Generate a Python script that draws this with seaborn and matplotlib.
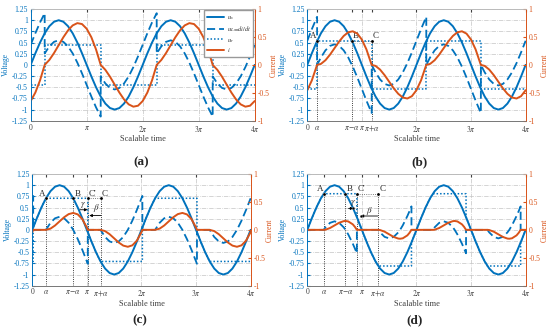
import matplotlib
matplotlib.use("Agg")
import matplotlib.pyplot as plt
import seaborn as sns

sns.set_style("white")
plt.rcParams['font.family'] = ['Liberation Serif', 'DejaVu Serif']
plt.rcParams['mathtext.fontset'] = 'stix'

BLUE = '#0072BD'
ORANGE = '#D95319'
GRID = '#c4c4c4'
TXT = '#404040'

# time axis in degrees (180 = pi)
t_us = [0, 15, 30, 45, 60, 75, 90, 105, 120, 135, 150, 165, 180, 195, 210, 225, 240, 255, 270, 285,
        300, 315, 330, 345, 360, 375, 390, 405, 420, 435, 450, 465, 480, 495, 510, 525, 540, 555,
        570, 585, 600, 615, 630, 645, 660, 675, 690, 705, 720]
u_s = [0, 0.259, 0.5, 0.707, 0.866, 0.966, 1, 0.966, 0.866, 0.707, 0.5, 0.259, 0, -0.259, -0.5,
       -0.707, -0.866, -0.966, -1, -0.966, -0.866, -0.707, -0.5, -0.259, 0, 0.259, 0.5, 0.707, 0.866,
       0.966, 1, 0.966, 0.866, 0.707, 0.5, 0.259, 0, -0.259, -0.5, -0.707, -0.866, -0.966, -1,
       -0.966, -0.866, -0.707, -0.5, -0.259, 0]

# (a) continuous conduction
t_a = [0, 15, 30, 45, 45, 60, 75, 90, 105, 120, 135, 150, 165, 180, 195, 210, 225, 225, 240, 255,
       270, 285, 300, 315, 330, 345, 360, 375, 390, 405, 405, 420, 435, 450, 465, 480, 495, 510,
       525, 540, 555, 570, 585, 585, 600, 615, 630, 645, 660, 675, 690, 705, 720]
uL_a = [0.45, 0.709, 0.95, 1.157,
        0.257, 0.416, 0.516, 0.55, 0.516, 0.416, 0.257, 0.05, -0.191, -0.45, -0.709, -0.95, -1.157,
        -0.257, -0.416, -0.516, -0.55, -0.516, -0.416, -0.257, -0.05, 0.191, 0.45, 0.709, 0.95, 1.157,
        0.257, 0.416, 0.516, 0.55, 0.516, 0.416, 0.257, 0.05, -0.191, -0.45, -0.709, -0.95, -1.157,
        -0.257, -0.416, -0.516, -0.55, -0.516, -0.416, -0.257, -0.05, 0.191, 0.45]
i_a = [-0.647, -0.495, -0.277, 0,
       0, 0.089, 0.212, 0.354, 0.495, 0.618, 0.707, 0.748, 0.731, 0.647, 0.495, 0.277, 0,
       0, -0.089, -0.212, -0.354, -0.495, -0.618, -0.707, -0.748, -0.731, -0.647, -0.495, -0.277, 0,
       0, 0.089, 0.212, 0.354, 0.495, 0.618, 0.707, 0.748, 0.731, 0.647, 0.495, 0.277, 0,
       0, -0.089, -0.212, -0.354, -0.495, -0.618, -0.707, -0.748, -0.731, -0.647]
tr_a = [0, 45, 45, 225, 225, 405, 405, 585, 585, 720]
ur_a = [-0.45, -0.45, 0.45, 0.45, -0.45, -0.45, 0.45, 0.45, -0.45, -0.45]

# (b) boundary conduction
t_b = [0, 15, 30, 32.4, 32.4, 45, 60, 75, 90, 105, 120, 135, 150, 165, 180, 195, 210, 212.4,
       212.4, 225, 240, 255, 270, 285, 300, 315, 330, 345, 360, 375, 390, 392.4,
       392.4, 405, 420, 435, 450, 465, 480, 495, 510, 525, 540, 555, 570, 572.4,
       572.4, 585, 600, 615, 630, 645, 660, 675, 690, 705, 720]
uL_b = [0.54, 0.799, 1.04, 1.076,
        0, 0.167, 0.326, 0.426, 0.46, 0.426, 0.326, 0.167, -0.04, -0.281, -0.54, -0.799, -1.04, -1.076,
        0, -0.167, -0.326, -0.426, -0.46, -0.426, -0.326, -0.167, 0.04, 0.281, 0.54, 0.799, 1.04, 1.076,
        0, 0.167, 0.326, 0.426, 0.46, 0.426, 0.326, 0.167, -0.04, -0.281, -0.54, -0.799, -1.04, -1.076,
        0, -0.167, -0.326, -0.426, -0.46, -0.426, -0.326, -0.167, 0.04, 0.281, 0.54]
i_b = [-0.453, -0.278, -0.036, 0,
       0, 0.018, 0.084, 0.184, 0.301, 0.419, 0.518, 0.584, 0.602, 0.560, 0.453, 0.278, 0.036, 0,
       0, -0.018, -0.084, -0.184, -0.301, -0.419, -0.518, -0.584, -0.602, -0.560, -0.453, -0.278, -0.036, 0,
       0, 0.018, 0.084, 0.184, 0.301, 0.419, 0.518, 0.584, 0.602, 0.560, 0.453, 0.278, 0.036, 0,
       0, -0.018, -0.084, -0.184, -0.301, -0.419, -0.518, -0.584, -0.602, -0.560, -0.453]
tr_b = [0, 32.4, 32.4, 212.4, 212.4, 392.4, 392.4, 572.4, 572.4, 720]
ur_b = [-0.54, -0.54, 0.54, 0.54, -0.54, -0.54, 0.54, 0.54, -0.54, -0.54]

# (c) discontinuous conduction
t_c = [0, 3, 3, 45, 60, 75, 90, 105, 120, 135, 150, 165, 180, 183, 183,
       225, 240, 255, 270, 285, 300, 315, 330, 345, 360, 363, 363,
       405, 420, 435, 450, 465, 480, 495, 510, 525, 540, 543, 543,
       585, 600, 615, 630, 645, 660, 675, 690, 705, 720]
uL_c = [0.707, 0.759, 0,
        0, 0.159, 0.259, 0.293, 0.259, 0.159, 0, -0.207, -0.448, -0.707, -0.759, 0,
        0, -0.159, -0.259, -0.293, -0.259, -0.159, 0, 0.207, 0.448, 0.707, 0.759, 0,
        0, 0.159, 0.259, 0.293, 0.259, 0.159, 0, -0.207, -0.448, -0.707, -0.759, 0,
        0, -0.159, -0.259, -0.293, -0.259, -0.159, 0, 0.207, 0.448, 0.707]
i_c = [-0.041, 0, 0,
       0, 0.022, 0.078, 0.152, 0.226, 0.282, 0.303, 0.277, 0.192, 0.041, 0, 0,
       0, -0.022, -0.078, -0.152, -0.226, -0.282, -0.303, -0.277, -0.192, -0.041, 0, 0,
       0, 0.022, 0.078, 0.152, 0.226, 0.282, 0.303, 0.277, 0.192, 0.041, 0, 0,
       0, -0.022, -0.078, -0.152, -0.226, -0.282, -0.303, -0.277, -0.192, -0.041]
tr_c = [0, 3, 3, 15, 30, 45, 183, 183, 195, 210, 225, 363, 363, 375, 390, 405, 543, 543, 555, 570, 585, 720]
ur_c = [-0.707, -0.707, 0.052, 0.259, 0.5, 0.707, 0.707, -0.052, -0.259, -0.5, -0.707, -0.707,
        0.052, 0.259, 0.5, 0.707, 0.707, -0.052, -0.259, -0.5, -0.707, -0.707]

# (d) discontinuous conduction, larger alpha
t_d = [0, 54, 60, 75, 90, 105, 120, 126, 135, 150, 157, 163.5, 163.5,
       234, 240, 255, 270, 285, 300, 306, 315, 330, 337, 343.5, 343.5,
       414, 420, 435, 450, 465, 480, 486, 495, 510, 517, 523.5, 523.5,
       594, 600, 615, 630, 645, 660, 666, 675, 690, 697, 703.5, 703.5, 720]
uL_d = [0,
        0, 0.057, 0.157, 0.191, 0.157, 0.057, 0, -0.102, -0.309, -0.418, -0.525, 0,
        0, -0.057, -0.157, -0.191, -0.157, -0.057, 0, 0.102, 0.309, 0.418, 0.525, 0,
        0, 0.057, 0.157, 0.191, 0.157, 0.057, 0, -0.102, -0.309, -0.418, -0.525, 0,
        0, -0.057, -0.157, -0.191, -0.157, -0.057, 0, 0.102, 0.309, 0.418, 0.525, 0, 0]
i_d = [0,
       0, 0.003, 0.033, 0.080, 0.127, 0.156, 0.159, 0.151, 0.099, 0.054, 0, 0,
       0, -0.003, -0.033, -0.080, -0.127, -0.156, -0.159, -0.151, -0.099, -0.054, 0, 0,
       0, 0.003, 0.033, 0.080, 0.127, 0.156, 0.159, 0.151, 0.099, 0.054, 0, 0,
       0, -0.003, -0.033, -0.080, -0.127, -0.156, -0.159, -0.151, -0.099, -0.054, 0, 0, 0]
tr_d = [0, 15, 30, 45, 54, 163.5, 163.5, 165, 180, 195, 210, 225, 234, 343.5, 343.5, 345, 360, 375,
        390, 405, 414, 523.5, 523.5, 525, 540, 555, 570, 585, 594, 703.5, 703.5, 705, 720]
ur_d = [0, 0.259, 0.5, 0.707, 0.809, 0.809, 0.284, 0.259, 0, -0.259, -0.5, -0.707, -0.809, -0.809,
        -0.284, -0.259, 0, 0.259, 0.5, 0.707, 0.809, 0.809, 0.284, 0.259, 0, -0.259, -0.5, -0.707,
        -0.809, -0.809, -0.284, -0.259, 0]

# key points A, B, (C'), C
pts_b = [32.4, 147.6, 212.4]
pts_c = [45, 135, 183, 225]
pts_d = [54, 126, 163.5, 234]
names3 = ['A', 'B', 'C']
names4 = ['A', 'B', "C'", 'C']
lvl_b, lvl_c, lvl_d = 0.54, 0.707, 0.809

xt_a = [0, 180, 360, 540, 720]
xl_a = ['0', r'$\pi$', r'$2\pi$', r'$3\pi$', r'$4\pi$']
xl_abc = ['0', r'$\alpha$', r'$\pi\!-\!\alpha$', r'$\pi$', r'$\pi\!+\!\alpha$', r'$2\pi$', r'$3\pi$', r'$4\pi$']
yl_ticks = [-1.25, -1, -0.75, -0.5, -0.25, 0, 0.25, 0.5, 0.75, 1, 1.25]
yl_labels = ['-1.25', '-1', '-0.75', '-0.5', '-0.25', '0', '0.25', '0.5', '0.75', '1', '1.25']
yr_ticks = [-1, -0.5, 0, 0.5, 1]
yr_labels = ['-1', '-0.5', '0', '0.5', '1']

fig = plt.figure(figsize=(5.5, 3.29), dpi=100)

DASH = (0, (4.5, 2.2))
DOT = (0, (1, 1.3))


def draw(rect, t, uL, cur, tr, ur, xt, xl, tag, tagpos):
    ax = fig.add_axes(rect)
    ax2 = ax.twinx()
    for yy in yl_ticks:
        ax.axhline(yy, color=GRID, ls='-.', lw=0.5, zorder=0.5)
    for xx in (180, 360, 540):
        ax.axvline(xx, color=GRID, ls='-.', lw=0.5, zorder=0.5)
    sns.lineplot(x=t_us, y=u_s, ax=ax, color=BLUE, lw=1.4, estimator=None, sort=False, legend=False)
    h1 = ax.lines[-1]
    sns.lineplot(x=t, y=uL, ax=ax, color=BLUE, lw=1.3, linestyle=DASH, estimator=None, sort=False, legend=False)
    h2 = ax.lines[-1]
    sns.lineplot(x=tr, y=ur, ax=ax, color=BLUE, lw=1.1, linestyle=DOT, estimator=None, sort=False, legend=False)
    h3 = ax.lines[-1]
    sns.lineplot(x=t, y=cur, ax=ax2, color=ORANGE, lw=1.4, estimator=None, sort=False, legend=False)
    h4 = ax2.lines[-1]

    ax.set_xlim(0, 720)
    ax.set_ylim(-1.25, 1.25)
    ax2.set_ylim(-1, 1)
    ax.set_xticks(xt)
    ax.set_xticklabels(xl)
    ax.set_yticks(yl_ticks)
    ax.set_yticklabels(yl_labels)
    ax2.set_yticks(yr_ticks)
    ax2.set_yticklabels(yr_labels)
    ax.tick_params(axis='x', direction='in', length=2, labelsize=5.5, colors=TXT, pad=2, top=True)
    ax.tick_params(axis='y', direction='in', length=2, labelsize=5.5, colors=BLUE, pad=2)
    ax2.tick_params(axis='y', direction='in', length=2, labelsize=5.5, colors=ORANGE, pad=2)
    for a in (ax, ax2):
        a.spines['left'].set_color(BLUE)
        a.spines['right'].set_color(ORANGE)
        a.spines['top'].set_color('#bbbbbb')
        a.spines['bottom'].set_color('#777777')
        for s in a.spines.values():
            s.set_linewidth(0.6)
    w_px = rect[2] * 550
    ax.set_xlabel('Scalable time', fontsize=6, color=TXT, labelpad=1)
    ax.set_ylabel('Voltage', fontsize=5.5, color=BLUE)
    ax.yaxis.set_label_coords(-20.5 / w_px, 0.5)
    ax2.set_ylabel('Current', fontsize=5.5, color=ORANGE)
    ax2.yaxis.set_label_coords(1 + 15.5 / w_px, 0.5)
    fig.text(tagpos[0], tagpos[1], tag, fontsize=9.5, fontweight='bold', ha='center', va='center')
    return ax, ax2, (h1, h2, h3, h4)


def mark(ax, pts, names, lvl):
    ax.vlines(pts, -1.25, lvl, colors='k', linestyles=':', lw=0.6, zorder=1)
    ax.hlines(lvl, pts[-2], pts[-1], colors='#555555', linestyles=':', lw=0.6, zorder=1)
    sns.scatterplot(x=pts, y=[lvl] * len(pts), ax=ax, color='k', s=5, zorder=5, legend=False)
    for k, (p, n) in enumerate(zip(pts, names)):
        if k == 0:
            ax.annotate(n, (p, lvl), xytext=(-0.5, 0.5), textcoords='offset points',
                        ha='right', va='bottom', fontsize=6.5)
        else:
            ax.annotate(n, (p, lvl), xytext=(0.8, 0.5), textcoords='offset points',
                        ha='left', va='bottom', fontsize=6.5)


def arrow(ax, x0, x1, y):
    ax.annotate('', xy=(x1, y), xytext=(x0, y),
                arrowprops=dict(arrowstyle='-|>', lw=0.6, color='k', mutation_scale=4,
                                shrinkA=0, shrinkB=0))


# (a)
ax, ax2, hs = draw([0.0558, 0.633, 0.4073, 0.3395], t_a, uL_a, i_a, tr_a, ur_a,
                   xt_a, xl_a, '(a)', (0.2576, 0.507))
ax2.legend(hs, [r'$u_s$', r'$u_L\!=\!di/dt$', r'$u_r$', r'$i$'], loc='upper right',
           fontsize=4.5, handlelength=2.6, handletextpad=0.5, labelspacing=0.3, borderpad=0.45,
           borderaxespad=0.2, frameon=True, fancybox=False, framealpha=1,
           edgecolor='#999999')

# (b)
ax, ax2, hs = draw([0.5587, 0.633, 0.397, 0.3395], t_b, uL_b, i_b, tr_b, ur_b,
                   [0] + pts_b[:2] + [180, pts_b[2], 360, 540, 720], xl_abc, '(b)', (0.762, 0.507))
mark(ax, pts_b, names3, lvl_b)

# (c)
ax, ax2, hs = draw([0.0587, 0.1316, 0.397, 0.3395], t_c, uL_c, i_c, tr_c, ur_c,
                   [0, pts_c[0], pts_c[1], 180, pts_c[3], 360, 540, 720], xl_abc, '(c)', (0.2545, 0.027))
mark(ax, pts_c, names4, lvl_c)
arrow(ax, 157, 182, 0.45)
arrow(ax, 226, 188, 0.32)
ax.text(168, 0.55, r'$\gamma$', fontsize=6.5, ha='center', va='center')
ax.text(211, 0.5, r'$\beta$', fontsize=6.5, ha='center', va='center')

# (d)
ax, ax2, hs = draw([0.5587, 0.1316, 0.397, 0.3395], t_d, uL_d, i_d, tr_d, ur_d,
                   [0, pts_d[0], pts_d[1], 180, pts_d[3], 360, 540, 720], xl_abc, '(d)', (0.7545, 0.027))
mark(ax, pts_d, names4, lvl_d)
arrow(ax, 136, 152, 0.48)
arrow(ax, 232, 176, 0.31)
sns.scatterplot(x=[152, 176], y=[0.48, 0.31], ax=ax, color='k', s=4, zorder=5, legend=False)
ax.text(151, 0.6, r'$\gamma$', fontsize=6.5, ha='center', va='center')
ax.text(205, 0.42, r'$\beta$', fontsize=6.5, ha='center', va='center')

fig.savefig('out.png', dpi=100)
